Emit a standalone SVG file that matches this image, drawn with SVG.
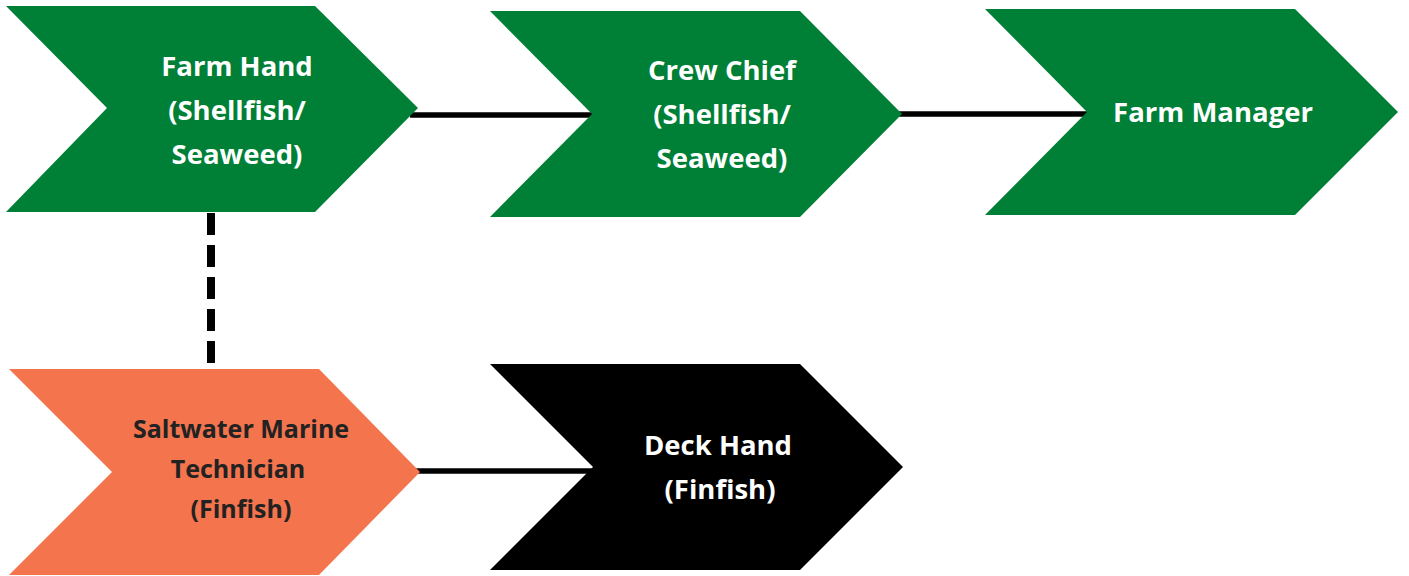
<svg xmlns="http://www.w3.org/2000/svg" width="1409" height="576" viewBox="0 0 1409 576">
<style>
.g{fill:#008037}
.o{fill:#F3744D}
.k{fill:#000000}
text{font-family:"Open Sans","Liberation Sans",sans-serif;font-weight:700;font-size:27.5px;text-anchor:middle}
.w{fill:#ffffff}
.d{fill:#222222;font-size:25px}
.c{stroke:#000;stroke-width:5.5;fill:none}
.dash{stroke:#000;stroke-width:8;fill:none;stroke-dasharray:22 10}
</style>
<rect width="1409" height="576" fill="#ffffff"/>
<g id="connectors">
<line class="c" x1="410" y1="115" x2="592" y2="115"/>
<line class="c" x1="898" y1="114" x2="1087" y2="114"/>
<line class="c" x1="415" y1="471" x2="593" y2="471"/>
<line class="dash" x1="211" y1="213" x2="211" y2="364"/>
</g>
<g id="farm-hand">
<polygon class="g" points="6,6 315,6 418,108 315,212 6,212 107,108"/>
<text class="w" x="237" y="76">Farm Hand</text>
<text class="w" x="237" y="120">(Shellfish/</text>
<text class="w" x="237" y="164">Seaweed)</text>
</g>
<g id="crew-chief">
<polygon class="g" points="490,11 800,11 902,114 800,217 490,217 592,114"/>
<text class="w" x="722" y="80">Crew Chief</text>
<text class="w" x="722" y="124">(Shellfish/</text>
<text class="w" x="722" y="168">Seaweed)</text>
</g>
<g id="farm-manager">
<polygon class="g" points="985,9 1295,9 1398,112 1295,215 985,215 1087,112"/>
<text class="w" x="1213" y="122">Farm Manager</text>
</g>
<g id="saltwater-marine-technician">
<polygon class="o" points="9,369 319,369 420,472 319,575 9,575 112,472"/>
<text class="d" x="241" y="438">Saltwater Marine</text>
<text class="d" x="238" y="478">Technician</text>
<text class="d" x="241" y="518">(Finfish)</text>
</g>
<g id="deck-hand">
<polygon class="k" points="490,364 800,364 903,467 800,570 490,570 593,467"/>
<text class="w" x="718" y="455">Deck Hand</text>
<text class="w" x="720" y="499">(Finfish)</text>
</g>
</svg>
